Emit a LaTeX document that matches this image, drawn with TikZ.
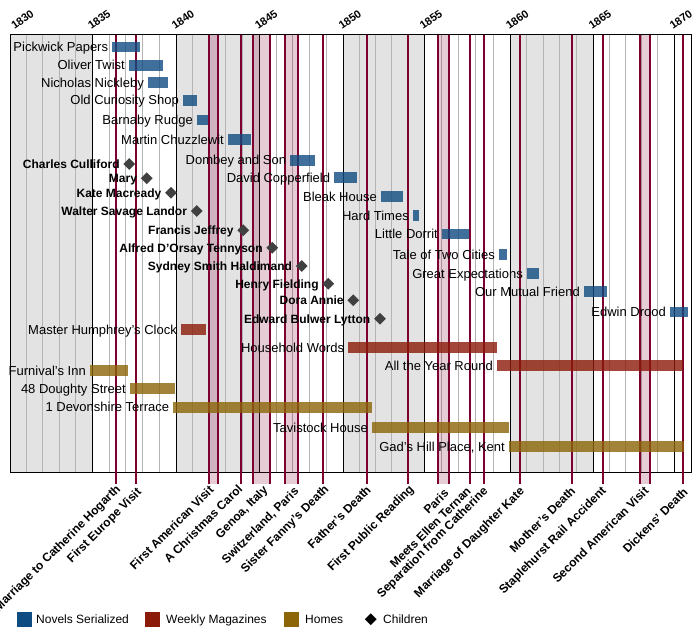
\documentclass[tikz,border=0pt]{standalone}
\usepackage{fontspec}
\setmainfont{Liberation Sans}
\definecolor{bggray}{HTML}{E3E3E3}
\definecolor{minorgray}{HTML}{B4B4B4}
\definecolor{evred}{HTML}{7D0030}
\definecolor{novelc}{HTML}{0F4C81}
\definecolor{magc}{HTML}{8B1A08}
\definecolor{homec}{HTML}{8B6508}
\definecolor{kidc}{HTML}{404040}
\begin{document}
\begin{tikzpicture}[x=1pt,y=-1pt,
  evline/.style={draw=evred, line width=2pt},
  evband/.style={fill=evred, fill opacity=0.2},
  novelbar/.style={fill=novelc, fill opacity=0.8},
  magbar/.style={fill=magc, fill opacity=0.8},
  homebar/.style={fill=homec, fill opacity=0.8},
  nlab/.style={font=\fontsize{13}{15}\selectfont, anchor=base east, inner sep=0pt},
  blab/.style={font=\bfseries\fontsize{12}{14}\selectfont, anchor=base east, inner sep=0pt},
  yearlab/.style={font=\bfseries\fontsize{11}{13}\selectfont, rotate=35, anchor=base west, inner sep=0pt},
  evlab/.style={font=\bfseries\fontsize{12}{14}\selectfont, rotate=45, anchor=north east, inner sep=0pt},
  kidmark/.style={fill=kidc, rectangle, rotate=45, minimum size=8.3pt, inner sep=0pt},
  leglab/.style={font=\fontsize{12}{14}\selectfont, anchor=base west, inner sep=0pt}
]
\useasboundingbox (0,0) rectangle (700,636);
\fill[white] (0,0) rectangle (700,636);

% alternating gray blocks
\foreach \a/\b in {10/92.3,176/259.3,343/424,510.3/593}
  \fill[bggray] (\a,35) rectangle (\b,472);

% yearly minor lines
\foreach \a/\b in {10/92.3,92.3/176,176/259.3,259.3/343,343/424,424/510.3,510.3/593,593/674}
  \foreach \k in {1,2,3,4}
    \draw[minorgray, line width=1pt] ({\a+\k*(\b-\a)/5},35) -- ({\a+\k*(\b-\a)/5},472);

% five-year major lines and labels
\foreach \x/\yr/\dx in {10/1830/4.5,92.3/1835/-1,176/1840/-1,259.3/1845/-1,343/1850/-1,424/1855/-1,510.3/1860/-1,593/1865/-1,674/1870/-1} {
  \draw[black, line width=1pt] (\x,35) -- (\x,472);
  \node[yearlab] (y\yr) at (\x+\dx,30) {\yr};
}
\draw[black, line width=1pt] (10,35) rectangle (691.7,472);

% event bands
\foreach \a/\b in {209/217.7,252.7/270,285/298,437.7/449,639.7/650}
  \fill[evband] (\a,35) rectangle (\b,484.3);

% event lines
\foreach \x in {115.7,135.7,209,217.7,240.7,252.7,270,285,298,322.7,366.7,407.7,437.7,449,470,484,520,572,603,639.7,650,682.7}
  \draw[evline] (\x,35) -- (\x,484.3);

% event labels
\foreach \x/\y/\t [count=\i] in {
  118.3/488/Marriage to Catherine Hogarth,
  139.3/491/First Europe Visit,
  211.7/489/First American Visit,
  240.5/488/A Christmas Carol,
  265.7/489/{Genoa, Italy},
  296.7/490/{Switzerland, Paris},
  326.7/488/Sister Fanny's Death,
  369/489/Father's Death,
  411.7/488/First Public Reading,
  446.7/492/Paris,
  469/490/Meets Ellen Ternan,
  485.7/490/Separation from Catherine,
  522.3/490/Marriage of Daughter Kate,
  573.3/490/Mother's Death,
  604/490/Staplehurst Rail Accident,
  646.7/490/Second American Visit,
  686/491/Dickens' Death}
  \node[evlab] (ev\i) at (\x-3.5,\y-4.5) {\t};

% novels serialized
\foreach \s/\e/\c/\t [count=\i] in {
  112.3/140/47/Pickwick Papers,
  129/163/65.3/Oliver Twist,
  148/168/82.5/Nicholas Nickleby,
  183/197/100.3/Old Curiosity Shop,
  197/208.3/120.2/Barnaby Rudge,
  228/251/139.7/Martin Chuzzlewit,
  290.3/315/160.3/Dombey and Son,
  334.3/357/177.5/David Copperfield,
  381/402.7/196.5/Bleak House,
  413/419/215.3/Hard Times,
  442/469/234.2/Little Dorrit,
  499/506.7/254.3/Tale of Two Cities,
  527/539/273.3/Great Expectations,
  584/606.7/291.5/Our Mutual Friend,
  670/687.7/311.8/Edwin Drood} {
  \fill[novelbar] (\s,\c-5.25) rectangle (\e,\c+5.25);
  \node[nlab] (nov\i) at (\s-4,\c+4.7) {\t};
}

% weekly magazines
\foreach \s/\e/\c/\t [count=\i] in {
  181/206/329.7/Master Humphrey's Clock,
  348.3/497/347.8/Household Words,
  497/683.3/365.3/All the Year Round} {
  \fill[magbar] (\s,\c-5.4) rectangle (\e,\c+5.4);
  \node[nlab] (mag\i) at (\s-4,\c+4.7) {\t};
}

% homes
\foreach \s/\e/\c/\t [count=\i] in {
  90/128/370.5/Furnival's Inn,
  130/175/388.3/48 Doughty Street,
  173.3/372/407.2/1 Devonshire Terrace,
  372/509/427.3/Tavistock House,
  509/684/446.3/{Gad's Hill Place, Kent}} {
  \fill[homebar] (\s,\c-5.5) rectangle (\e,\c+5.5);
  \node[nlab] (home\i) at (\s-4,\c+4.7) {\t};
}

% children
\foreach \x/\c/\t [count=\i] in {
  129.3/164/Charles Culliford,
  146.7/178.3/Mary,
  171/192.7/Kate Macready,
  196.7/211/Walter Savage Landor,
  243.3/230.3/Francis Jeffrey,
  272.3/247.7/Alfred D'Orsay Tennyson,
  301.7/266/Sydney Smith Haldimand,
  328.3/283.7/Henry Fielding,
  353.3/300.3/Dora Annie,
  380/318.7/Edward Bulwer Lytton} {
  \node[kidmark] (kid\i) at (\x,\c) {};
  \node[blab] (kidl\i) at (\x-9.5,\c+4.3) {\t};
}

% legend
\fill[novelc] (17,611.7) rectangle (32,626.7);
\node[leglab] (lg1) at (36,623.4) {Novels Serialized};
\fill[magc] (145,611.7) rectangle (160,626.7);
\node[leglab] (lg2) at (166,623.4) {Weekly Magazines};
\fill[homec] (284,611.7) rectangle (299,626.7);
\node[leglab] (lg3) at (305,623.4) {Homes};
\node[kidmark, fill=black] (lg4m) at (370.7,619.2) {};
\node[leglab] (lg4) at (383,623.4) {Children};
\end{tikzpicture}
\end{document}
